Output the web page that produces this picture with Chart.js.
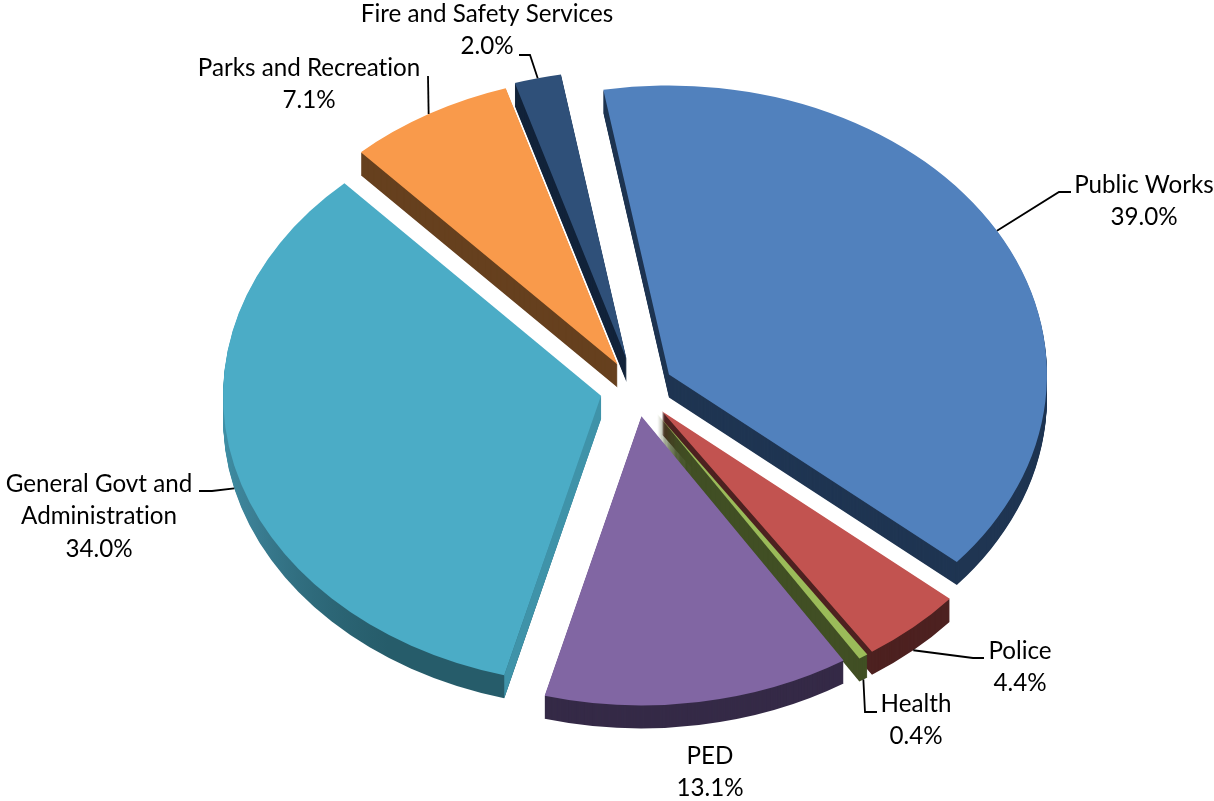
<!DOCTYPE html>
<html>
<head>
<meta charset="utf-8">
<title>Budget by department</title>
<script src="https://cdn.jsdelivr.net/npm/chart.js@4/dist/chart.umd.min.js"></script>
<style>
  html, body { margin: 0; padding: 0; background: #fff; }
  canvas { display: block; }
</style>
</head>
<body>
<canvas id="pie" width="1214" height="801"></canvas>
<script>
const categories = ['Public Works', 'Police', 'Health', 'PED', ['General Govt and', 'Administration'], 'Parks and Recreation', 'Fire and Safety Services'];
const shares = [39.0, 4.4, 0.4, 13.1, 34.0, 7.1, 2.0];

const topColors = ['#5181bd', '#c25350', '#9bbb59', '#8166a3', '#4bacc6', '#f99a4b', '#2f5079'];
const sideColors = ['#1f3552', '#4d2120', '#414f24', '#352a47', null, '#66401e', '#12233a'];

// pie is tilted: squash vertically and pull each slice out along its middle angle
const tilt = 0.765;
const depth = 23;
const explode = [38, 39, 39, 36, 36, 37, 40];

// where each label sits and the elbow of its leader line
const labelSpots = [
  { x: 1144, y: 185, elbow: [[1059, 192], [1071, 192]] },
  { x: 1020, y: 651, elbow: [[973, 658], [984, 658]], rim: true },
  { x: 916, y: 704, elbow: [[865, 712], [877, 712]], rim: true },
  { x: 710, y: 756, elbow: null },
  { x: 99, y: 484, elbow: [[212, 491], [199, 491]], rim: true },
  { x: 309, y: 68, elbow: [[428, 76]] },
  { x: 487, y: 14, elbow: [[530, 55], [519, 55]] }
];
const lineHeight = 32.5;

function sliceShift(arc, i) {
  const mid = (arc.startAngle + arc.endAngle) / 2;
  return { dx: Math.cos(mid) * explode[i], dy: Math.sin(mid) * explode[i] * tilt };
}

function withSlice(ctx, arc, i, lift, paint) {
  const s = sliceShift(arc, i);
  ctx.save();
  ctx.translate(arc.x + s.dx, arc.y + s.dy + lift);
  ctx.scale(1, tilt);
  ctx.translate(-arc.x, -arc.y);
  paint();
  ctx.restore();
}

function paintArc(ctx, arc, color) {
  const saved = arc.options;
  arc.options = Object.assign(Object.create(saved), { backgroundColor: color, borderWidth: 0 });
  arc.draw(ctx);
  arc.options = saved;
}

function rimFill(ctx) {
  const g = ctx.createLinearGradient(0, 400, 0, 700);
  g.addColorStop(0, '#3f92a9');
  g.addColorStop(0.45, '#3b7f94');
  g.addColorStop(1, '#265c6a');
  return g;
}

const tiltedPie = {
  id: 'tiltedPie',
  beforeDatasetsDraw(chart) {
    const ctx = chart.ctx;
    const arcs = chart.getDatasetMeta(0).data;
    arcs.forEach((arc, i) => {
      const s = sliceShift(arc, i);
      for (let lift = depth; lift > 0; lift--) {
        const fill = sideColors[i] || rimFill(ctx);
        withSlice(ctx, arc, i, lift, () => paintArc(ctx, arc, fill));
      }
      if (!sideColors[i]) {
        // cut face of the big teal slice stays light
        const ax = arc.x + s.dx, ay = arc.y + s.dy;
        const ox = ax + Math.cos(arc.startAngle) * arc.outerRadius;
        const oy = ay + Math.sin(arc.startAngle) * arc.outerRadius * tilt;
        ctx.fillStyle = '#3f93a9';
        ctx.beginPath();
        ctx.moveTo(ax, ay);
        ctx.lineTo(ox, oy);
        ctx.lineTo(ox, oy + depth);
        ctx.lineTo(ax, ay + depth);
        ctx.closePath();
        ctx.fill();
      }
    });
    arcs.forEach((arc, i) => withSlice(ctx, arc, i, 0, () => paintArc(ctx, arc, topColors[i])));
    return false;
  },
  afterDraw(chart) {
    const ctx = chart.ctx;
    const arcs = chart.getDatasetMeta(0).data;
    ctx.save();
    ctx.strokeStyle = '#000';
    ctx.lineWidth = 1.8;
    ctx.fillStyle = '#000';
    ctx.font = '24.2px Lato';
    ctx.textAlign = 'center';
    ctx.textBaseline = 'middle';
    ctx.textRendering = 'optimizeSpeed'; // no "ti" ligature from Lato
    arcs.forEach((arc, i) => {
      const spot = labelSpots[i];
      if (spot.elbow) {
        const s = sliceShift(arc, i);
        const mid = (arc.startAngle + arc.endAngle) / 2;
        const ax = arc.x + s.dx + Math.cos(mid) * arc.outerRadius;
        const ay = arc.y + s.dy + Math.sin(mid) * arc.outerRadius * tilt + (spot.rim ? depth : 0);
        ctx.beginPath();
        ctx.moveTo(ax, ay);
        spot.elbow.forEach(p => ctx.lineTo(p[0], p[1]));
        ctx.stroke();
      }
      const name = [].concat(categories[i]);
      name.concat(shares[i].toFixed(1) + '%').forEach((line, n) => {
        ctx.fillText(line, spot.x, spot.y + n * lineHeight);
      });
    });
    ctx.restore();
  }
};

new Chart(document.getElementById('pie'), {
  type: 'pie',
  data: {
    labels: categories,
    datasets: [{ data: shares, backgroundColor: topColors, borderWidth: 0 }]
  },
  options: {
    responsive: false,
    animation: false,
    rotation: -10,
    layout: { padding: { left: 258, right: 200, top: 11, bottom: 34 } },
    plugins: { legend: { display: false }, tooltip: { enabled: false } }
  },
  plugins: [tiltedPie]
});
</script>
</body>
</html>
